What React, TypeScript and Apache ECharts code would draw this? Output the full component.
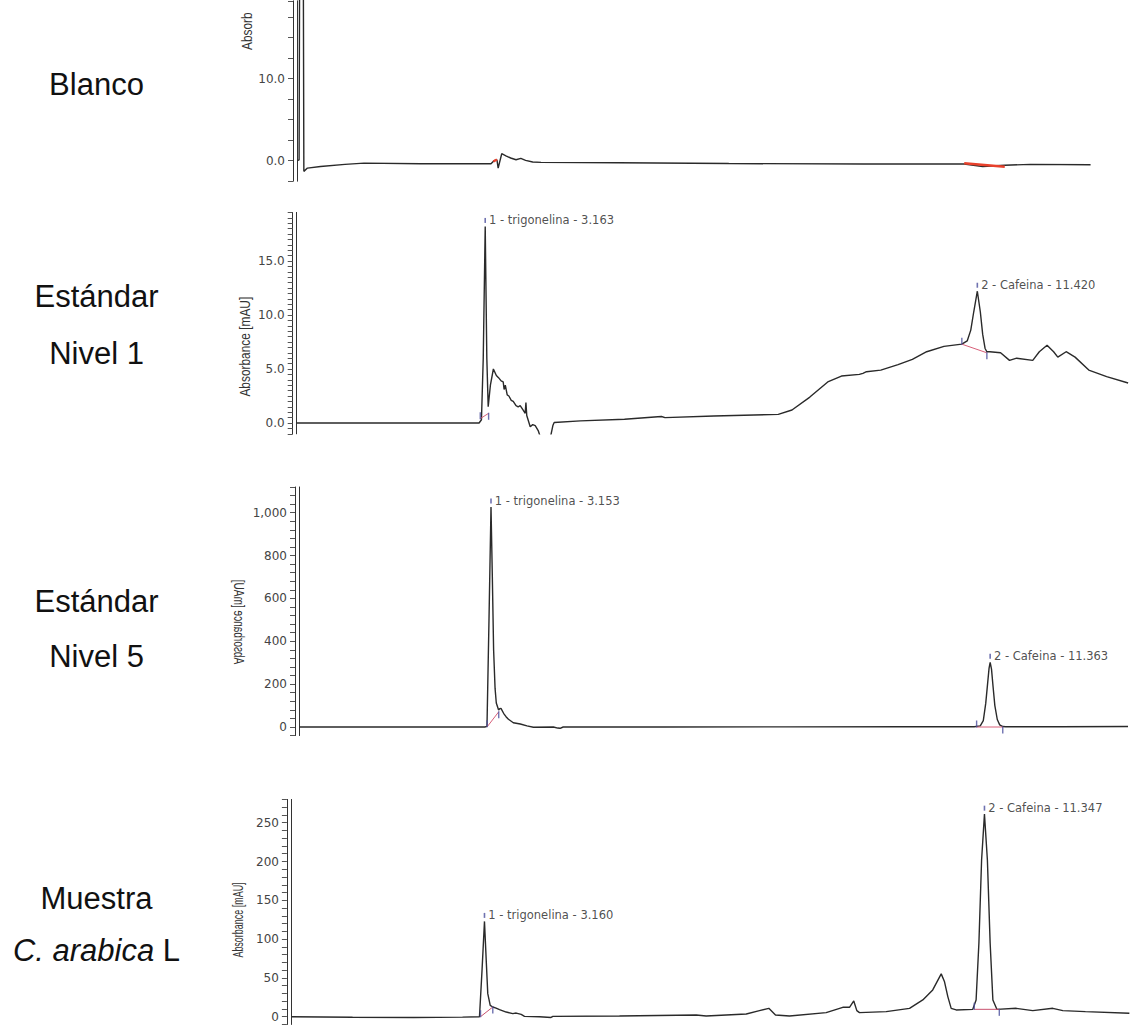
import React, { useEffect, useRef } from "react";
import * as echarts from "echarts";

// ---------- Data (time in min, absorbance in mAU) ----------
const blancoTime = [0, 0.03, 0.045, 0.095, 0.11, 0.17, 0.39, 0.8, 1.12, 2.07, 3.25, 3.3, 3.35, 3.37, 3.43, 3.5, 3.58, 3.67, 3.75, 3.83, 3.95, 4.09, 5.39, 7.24, 9.5, 11.19, 11.5, 11.87, 12.3, 13.31];
const blancoAbs = [0, 0.1, 40, 40, -1.3, -0.9, -0.7, -0.45, -0.3, -0.37, -0.37, 0, 0.1, -0.9, 0.85, 0.6, 0.33, 0.12, 0.28, 0.04, -0.16, -0.2, -0.25, -0.35, -0.4, -0.4, -0.7, -0.55, -0.45, -0.5];

const nivel1Time = [0, 1.5, 3.06, 3.1, 3.13, 3.163, 3.19, 3.213, 3.25, 3.3, 3.35, 3.386, 3.43, 3.465, 3.48, 3.5, 3.532, 3.56, 3.6, 3.633, 3.68, 3.716, 3.75, 3.8, 3.834, 3.846, 3.86, 3.918, 3.96, 4.002, 4.052, 4.1, 4.25, 4.3, 4.32, 4.76, 5.5, 6.06, 6.12, 6.18, 7.0, 8.08, 8.31, 8.61, 8.91, 9.14, 9.44, 9.5, 9.56, 9.8, 10.09, 10.33, 10.57, 10.86, 11.16, 11.25, 11.31, 11.36, 11.42, 11.47, 11.51, 11.55, 11.58, 11.63, 11.81, 11.96, 12.08, 12.35, 12.46, 12.59, 12.7, 12.77, 12.91, 13.06, 13.29, 13.59, 13.95];
const nivel1Abs = [0, 0, 0, 0.3, 6, 18.2, 6, 1.5, 3.5, 5.0, 4.4, 4.2, 3.9, 3.8, 3.1, 3.5, 2.6, 2.5, 2.1, 2.0, 1.6, 1.5, 1.6, 1.2, 0.9, 1.9, 0.7, -0.35, -0.15, -0.25, -0.7, -1.5, -1.5, -0.2, 0.05, 0.2, 0.35, 0.58, 0.6, 0.5, 0.65, 0.8, 1.2, 2.4, 3.8, 4.35, 4.5, 4.6, 4.75, 4.9, 5.4, 5.9, 6.6, 7.1, 7.3, 7.6, 8.6, 10.3, 12.2, 10.3, 8.2, 6.9, 6.6, 6.6, 6.5, 5.8, 6.0, 5.8, 6.6, 7.2, 6.6, 6.1, 6.6, 6.1, 4.9, 4.3, 3.7];

const nivel5Time = [0, 1.5, 3.05, 3.087, 3.12, 3.153, 3.175, 3.196, 3.22, 3.24, 3.278, 3.3, 3.317, 3.36, 3.4, 3.44, 3.52, 3.635, 3.745, 3.85, 4.18, 4.25, 4.29, 4.34, 6.0, 8.0, 10.0, 11.1, 11.2, 11.25, 11.29, 11.32, 11.345, 11.363, 11.385, 11.41, 11.44, 11.48, 11.52, 11.57, 11.62, 12.5, 13.63];
const nivel5Abs = [0, 0, 0, 3, 500, 1027, 700, 359, 180, 112, 79, 86, 87, 64, 48, 36, 20, 14, 5, -1, 0, -5, -6, 0, 0, 0.5, 1, 1, 5, 30, 110, 200, 275, 302, 270, 190, 100, 35, 10, 2, 1, 1.5, 2];

const muestraTime = [0, 1.0, 2.0, 2.8, 3.078, 3.12, 3.16, 3.19, 3.214, 3.254, 3.296, 3.35, 3.406, 3.516, 3.624, 3.68, 3.761, 3.815, 4.06, 4.25, 4.28, 5.371, 6.627, 6.79, 7.446, 7.663, 7.816, 7.925, 8.155, 8.755, 9.027, 9.137, 9.207, 9.257, 9.3, 9.738, 10.12, 10.337, 10.5, 10.639, 10.693, 10.747, 10.802, 10.884, 11.156, 11.21, 11.256, 11.3, 11.347, 11.395, 11.44, 11.485, 11.55, 11.867, 12.138, 12.466, 12.63, 13.0, 13.72];
const muestraAbs = [0, -0.8, -1, -0.5, 0, 60, 122.8, 70, 29.7, 14.6, 12.5, 11, 9.1, 6, 3.9, 4.7, 2.9, 0.4, 0, -1, 0.4, 0.9, 2.2, 0.9, 3.5, 7.8, 10.8, 2.2, 0.9, 5.2, 12.1, 12.1, 20.3, 7.8, 5.2, 6.5, 10.8, 21.6, 34.5, 55.2, 45, 25.9, 10.8, 8.7, 9.5, 21.6, 95, 202, 261, 202, 95, 21.6, 9.5, 10.8, 7.8, 10.8, 7.8, 6.5, 4.4];

// Identified peaks
const nivel1PeakTimes = [3.163, 11.42];
const nivel1PeakAbs = [18.2, 12.2];
const nivel5PeakTimes = [3.153, 11.363];
const nivel5PeakAbs = [1027, 302];
const muestraPeakTimes = [3.16, 11.347];
const muestraPeakAbs = [122.8, 261];
const peakNames = ["trigonelina", "Cafeina"];

// Integration baselines: [startTime, startAbs, endTime, endAbs]
const blancoBaselines = [[3.29, -0.1, 3.35, 0.15], [11.19, -0.3, 11.87, -0.75]];
const nivel1Baselines = [[3.08, 0.4, 3.22, 0.9], [11.16, 7.3, 11.58, 6.5]];
const nivel5Baselines = [[3.09, 1, 3.28, 71], [11.14, 0, 11.57, 0]];
const muestraBaselines = [[3.095, 0, 3.296, 12.5], [11.18, 9.5, 11.59, 9.5]];

// Y-axis tick labels
const blancoTicks = [0, 10];
const nivel1Ticks = [0, 5, 10, 15];
const nivel5Ticks = [0, 200, 400, 600, 800, 1000];
const muestraTicks = [0, 50, 100, 150, 200, 250];

const sampleLabels = ["Blanco", "Estándar", "Nivel 1", "Estándar", "Nivel 5", "Muestra", "C. arabica L"];
const axisTitles = ["Absorb", "Absorbance [mAU]", "Absorbance [mAU]", "Absorbance [mAU]"];

// ---------- Layout ----------
const W = 1130;
const H = 1025;
const labelX = 96.5;
const labelYs = [84, 296, 353, 601, 656, 898, 950];

const panels = [
  { time: blancoTime, abs: blancoAbs, peaksT: [] as number[], peaksV: [] as number[], baselines: blancoBaselines, ticks: blancoTicks, dec: 1,
    left: 297.3, gap: 4.3, pxPerMin: 59.6, xMax: 13.9, zeroY: 160.7, pxPerUnit: 8.2, yMin: -2.5, yMax: 19.5, minor: 2.5, baseColor: "#e8412c", baseWidth: 2.5,
    title: { x: 247, y: 50, align: "left", sx: 0.85, mirror: false } },
  { time: nivel1Time, abs: nivel1Abs, peaksT: nivel1PeakTimes, peaksV: nivel1PeakAbs, baselines: nivel1Baselines, ticks: nivel1Ticks, dec: 1,
    left: 296.7, gap: 4, pxPerMin: 59.6, xMax: 13.95, zeroY: 423, pxPerUnit: 10.8, yMin: -1, yMax: 19.5, minor: 0.5, baseColor: "#d8607a", baseWidth: 1,
    title: { x: 245.5, y: 346.7, align: "center", sx: 0.85, mirror: false } },
  { time: nivel5Time, abs: nivel5Abs, peaksT: nivel5PeakTimes, peaksV: nivel5PeakAbs, baselines: nivel5Baselines, ticks: nivel5Ticks, dec: 0,
    left: 299.3, gap: 4.3, pxPerMin: 60.8, xMax: 13.66, zeroY: 727, pxPerUnit: 0.2143, yMin: -40, yMax: 1120, minor: 40, baseColor: "#d8607a", baseWidth: 1,
    title: { x: 239, y: 622, align: "center", sx: 0.72, mirror: true } },
  { time: muestraTime, abs: muestraAbs, peaksT: muestraPeakTimes, peaksV: muestraPeakAbs, baselines: muestraBaselines, ticks: muestraTicks, dec: 0,
    left: 291.5, gap: 4.6, pxPerMin: 61.07, xMax: 13.72, zeroY: 1016.7, pxPerUnit: 0.776, yMin: -10, yMax: 280, minor: 10, baseColor: "#c8506e", baseWidth: 1,
    title: { x: 237.5, y: 920, align: "center", sx: 0.64, mirror: false } },
];

const TRACE = "#2a2a2a";
const MARK = "#4b4f9c";

function fmt(v: number, dec: number) {
  if (dec > 0) return v.toFixed(dec);
  return Math.round(v).toLocaleString("en-US");
}

export default function App() {
  const ref = useRef<HTMLDivElement>(null);

  useEffect(() => {
    if (!ref.current) return;
    const chart = echarts.init(ref.current, null, { renderer: "svg", width: W, height: H });

    const grid: any[] = [];
    const xAxis: any[] = [];
    const yAxis: any[] = [];
    const series: any[] = [];
    const graphic: any[] = [];

    panels.forEach((p, i) => {
      const top = p.zeroY - p.yMax * p.pxPerUnit;
      const height = (p.yMax - p.yMin) * p.pxPerUnit;
      grid.push({ left: p.left, top, width: p.xMax * p.pxPerMin, height, containLabel: false });
      xAxis.push({ type: "value", gridIndex: i, min: 0, max: p.xMax, show: false });
      const ticks = p.ticks;
      yAxis.push({
        type: "value", gridIndex: i, min: p.yMin, max: p.yMax, interval: p.minor, position: "left", offset: p.gap,
        axisLine: { show: true, onZero: false, lineStyle: { color: "#333", width: 1 } },
        axisTick: { show: true, length: 5, lineStyle: { color: "#555", width: 1 } },
        axisLabel: {
          color: "#444", fontSize: 12, fontFamily: "DejaVu Sans", margin: 8, showMinLabel: true, showMaxLabel: true,
          formatter: (v: number) => (ticks.some((t) => Math.abs(t - v) < 1e-6) ? fmt(v, p.dec) : ""),
        },
        splitLine: { show: false },
      });
      yAxis.push({
        type: "value", gridIndex: i, min: p.yMin, max: p.yMax, position: "left", offset: 0,
        axisLine: { show: true, onZero: false, lineStyle: { color: "#333", width: 1 } },
        axisTick: { show: false }, axisLabel: { show: false }, splitLine: { show: false },
      });
      const yi = 2 * i;
      series.push({
        type: "line", xAxisIndex: i, yAxisIndex: yi, showSymbol: false, clip: true, silent: true,
        lineStyle: { color: TRACE, width: 1.4 },
        data: p.time.map((t, k) => [t, p.abs[k]]),
        z: 3,
      });
      p.baselines.forEach((b) => {
        series.push({
          type: "line", xAxisIndex: i, yAxisIndex: yi, showSymbol: false, clip: true, silent: true,
          lineStyle: { color: p.baseColor, width: p.baseWidth },
          data: [[b[0], b[1]], [b[2], b[3]]],
          z: 4,
        });
      });
      if (i > 0) {
        const ends: any[] = [];
        p.baselines.forEach((b) => {
          ends.push({ value: [b[0], b[1]], symbolOffset: [0, -3] });
          ends.push({ value: [b[2], b[3]], symbolOffset: [0, 3] });
        });
        series.push({
          type: "scatter", xAxisIndex: i, yAxisIndex: yi, symbol: "rect", symbolSize: [1.4, 7], silent: true,
          itemStyle: { color: MARK }, data: ends, z: 5,
        });
        series.push({
          type: "scatter", xAxisIndex: i, yAxisIndex: yi, symbol: "rect", symbolSize: [1.6, 5], symbolOffset: [0, -6], silent: true,
          itemStyle: { color: MARK },
          data: p.peaksT.map((t, k) => ({ value: [t, p.peaksV[k]], name: `${k + 1} - ${peakNames[k]} - ${t.toFixed(3)}` })),
          label: { show: true, position: "right", distance: 3, formatter: "{b}", color: "#222", fontSize: 11.5, fontFamily: "DejaVu Sans" },
          z: 5,
        });
      }
      const t = p.title;
      graphic.push({
        type: "text", x: t.x, y: t.y, rotation: Math.PI / 2, scaleX: t.sx, scaleY: t.mirror ? -1 : 1, silent: true,
        style: { text: axisTitles[i], fontSize: 14, fontFamily: "Liberation Sans, Arial", fill: "#333", align: t.align, verticalAlign: "middle" },
      });
    });

    sampleLabels.forEach((s, k) => {
      const italic = s.startsWith("C. ");
      graphic.push({
        type: "text", x: labelX, y: labelYs[k], silent: true,
        style: italic
          ? { text: "{i|C. arabica} L", fontSize: 31, fontFamily: "Liberation Sans, Arial", fill: "#111", align: "center", verticalAlign: "middle",
              rich: { i: { fontStyle: "italic", fontSize: 31, fontFamily: "Liberation Sans, Arial", fill: "#111" } } }
          : { text: s, fontSize: 31, fontFamily: "Liberation Sans, Arial", fill: "#111", align: "center", verticalAlign: "middle" },
      });
    });

    chart.setOption({ animation: false, backgroundColor: "#fff", grid, xAxis, yAxis, series, graphic });
    return () => chart.dispose();
  }, []);

  return <div ref={ref} style={{ position: "absolute", left: 0, top: 0, width: W, height: H, background: "#fff" }} />;
}
